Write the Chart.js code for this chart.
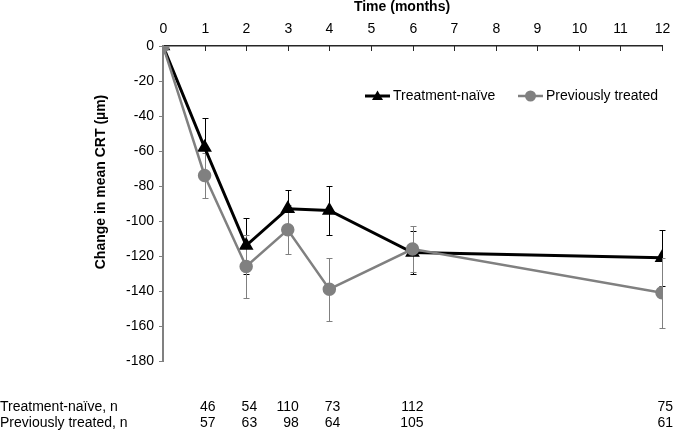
<!DOCTYPE html>
<html>
<head>
<meta charset="utf-8">
<script src="https://cdn.jsdelivr.net/npm/chart.js@4"></script>
<style>
  body { margin: 0; background: #fff; }
  #wrap { width: 685px; height: 433px; }
</style>
</head>
<body>
<div id="wrap"><canvas id="myChart" width="685" height="433"></canvas></div>
<script>
const months = [0, 1, 2, 3, 4, 6, 12];
const naive = [0, -58, -114, -93, -94, -118, -121];
const naiveErr = [0, 17, 16, 11, 14, 12.5, 16];
const previous = [0, -74, -126, -105, -139, -116, -141];
const previousErr = [0, 13, 18, 14, 18, 13, 20];

const nMonths = [1, 2, 3, 4, 6, 12];
const nNaive = [46, 54, 110, 73, 112, 75];
const nPrevious = [57, 63, 98, 64, 105, 61];
const nRowLabels = ['Treatment-naïve, n', 'Previously treated, n'];

const xTitle = 'Time (months)';
const yTitle = 'Change in mean CRT (µm)';

const FONT = "'Liberation Sans', Arial, sans-serif";
const GRAY = '#808080';

function toPoints(xs, ys) {
    var pts = [];
    for (var i = 0; i < xs.length; i++) {
        pts.push({x: xs[i], y: ys[i]});
    }
    return pts
}

function line(ctx, x1, y1, x2, y2) {
    ctx.beginPath();
    ctx.moveTo(x1, y1);
    ctx.lineTo(x2, y2);
    ctx.stroke();
}

function drawErrors(chart, vals, errs, color) {
    const {ctx, scales: {x, y}} = chart;
    ctx.save();
    ctx.strokeStyle = color;
    ctx.lineWidth = 1;
    for (var i = 0; i < months.length; i++) {
        if (!errs[i]) continue;
        const px = Math.round(x.getPixelForValue(months[i])) + 0.5;
        const top = Math.round(y.getPixelForValue(vals[i] + errs[i])) + 0.5;
        const bot = Math.round(y.getPixelForValue(vals[i] - errs[i])) + 0.5;
        line(ctx, px, top, px, bot);
        line(ctx, px - 3, top, px + 3, top);
        line(ctx, px - 3, bot, px + 3, bot);
    }
    ctx.restore();
}

function legendMarker(ctx, style, color, cx, cy) {
    ctx.fillStyle = color;
    ctx.beginPath();
    if (style === 'triangle') {
        ctx.moveTo(cx, cy - 5.5);
        ctx.lineTo(cx + 5.5, cy + 4);
        ctx.lineTo(cx - 5.5, cy + 4);
        ctx.closePath();
    } else {
        ctx.arc(cx, cy, 5.5, 0, Math.PI * 2);
    }
    ctx.fill();
}

const extras = {
    id: 'extras',
    beforeDatasetsDraw(chart) {
        const {ctx, chartArea, scales: {x}} = chart;
        ctx.save();
        // x tick marks point down into the plot, labels sit above the axis
        ctx.strokeStyle = '#262626';
        ctx.lineWidth = 1;
        ctx.fillStyle = '#000';
        ctx.font = '14px ' + FONT;
        ctx.textAlign = 'center';
        ctx.textBaseline = 'middle';
        x.ticks.forEach(function (t) {
            const px = Math.round(x.getPixelForValue(t.value)) + 0.5;
            line(ctx, px, chartArea.top, px, chartArea.top + 5);
            ctx.fillText(String(t.value), px, 29);
        });
        ctx.restore();
        drawErrors(chart, naive, naiveErr, '#000');
        drawErrors(chart, previous, previousErr, GRAY);
    },
    afterDraw(chart) {
        const {ctx, scales: {x}} = chart;
        ctx.save();
        ctx.fillStyle = '#000';

        // axis titles
        ctx.font = 'bold 14px ' + FONT;
        ctx.textAlign = 'center';
        ctx.textBaseline = 'middle';
        ctx.fillText(xTitle, 402, 7);
        ctx.save();
        ctx.translate(101, 182);
        ctx.rotate(-Math.PI / 2);
        ctx.fillText(yTitle, 0, 0);
        ctx.restore();

        // legend
        ctx.font = '14px ' + FONT;
        ctx.textAlign = 'left';
        const items = [
            {ds: chart.data.datasets[0], x: 365},
            {ds: chart.data.datasets[1], x: 518}
        ];
        items.forEach(function (it) {
            ctx.strokeStyle = it.ds.borderColor;
            ctx.lineWidth = it.ds.borderWidth;
            line(ctx, it.x, 96, it.x + 25, 96);
            legendMarker(ctx, it.ds.pointStyle, it.ds.pointBackgroundColor, it.x + 12.5, 96);
            ctx.fillStyle = '#000';
            ctx.fillText(it.ds.label, it.x + 28, 96);
        });

        // n table
        ctx.textBaseline = 'alphabetic';
        ctx.textAlign = 'left';
        ctx.fillText(nRowLabels[0], 0, 411);
        ctx.fillText(nRowLabels[1], 0, 427);
        ctx.textAlign = 'right';
        for (var i = 0; i < nMonths.length; i++) {
            const px = Math.min(x.getPixelForValue(nMonths[i]) + 11, 683);
            ctx.fillText(String(nNaive[i]), px, 411);
            ctx.fillText(String(nPrevious[i]), px, 427);
        }
        ctx.restore();
    }
};

const ctx = document.getElementById('myChart');

new Chart(ctx, {
    type: 'line',
    data: {
        datasets: [
            {
                label: 'Treatment-naïve',
                data: toPoints(months, naive),
                borderColor: '#000',
                borderWidth: 3,
                pointStyle: 'triangle',
                pointRadius: 5.5,
                pointBackgroundColor: '#000',
                pointBorderColor: '#000',
                lineTension: 0,
                order: 1
            },
            {
                label: 'Previously treated',
                data: toPoints(months, previous),
                borderColor: GRAY,
                borderWidth: 2.5,
                pointStyle: 'circle',
                pointRadius: 5.5,
                pointBackgroundColor: GRAY,
                pointBorderColor: GRAY,
                lineTension: 0,
                order: 0
            }
        ]
    },
    options: {
        responsive: false,
        animation: false,
        devicePixelRatio: 1,
        layout: {
            padding: {left: 0, right: 23, top: 0, bottom: 72}
        },
        plugins: {
            legend: {display: false},
            tooltip: {enabled: false}
        },
        scales: {
            x: {
                type: 'linear',
                position: 'top',
                min: 0,
                max: 12,
                afterFit: function (scale) { scale.height = 46; },
                grid: {display: false},
                border: {display: true, color: '#262626', width: 1.5},
                ticks: {
                    display: false,
                    stepSize: 1
                }
            },
            y: {
                min: -180,
                max: 0,
                afterFit: function (scale) { scale.width = 163; },
                grid: {
                    display: true,
                    drawOnChartArea: false,
                    drawTicks: true,
                    tickLength: 4,
                    tickColor: GRAY
                },
                border: {display: true, color: GRAY, width: 2},
                ticks: {
                    stepSize: 20,
                    color: '#000',
                    padding: 5,
                    font: {family: FONT, size: 14}
                }
            }
        }
    },
    plugins: [extras]
});
</script>
</body>
</html>
